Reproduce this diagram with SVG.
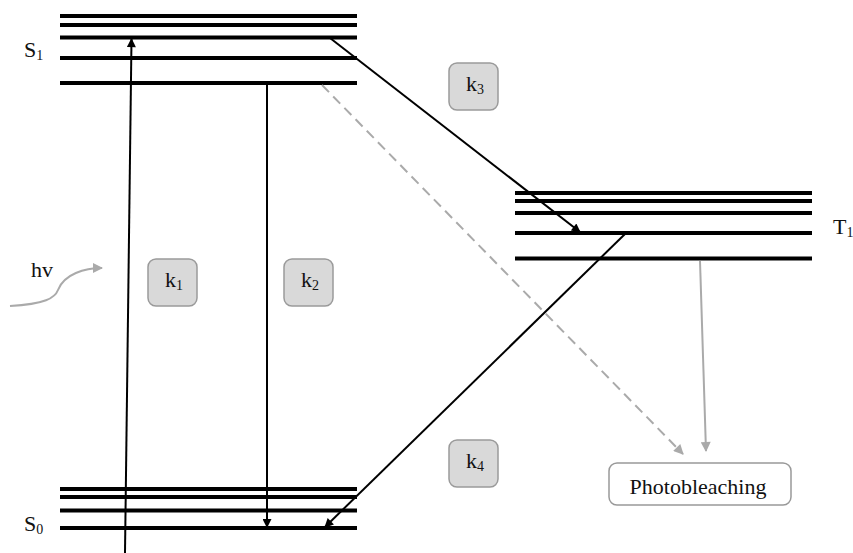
<svg xmlns="http://www.w3.org/2000/svg" width="853" height="553" viewBox="0 0 853 553">
<style>
.lvl{stroke:#000;stroke-width:4;}
text{font-family:'Liberation Serif','DejaVu Serif',serif;fill:#111;font-size:22px;}
.sub{font-size:14px;}
.kbox{fill:#d9d9d9;stroke:#9a9a9a;stroke-width:1.5;}
.arr{stroke:#000;stroke-width:2;fill:none;}
.garr{stroke:#aaa;stroke-width:2;fill:none;}
</style>
<defs>
<marker id="ab" viewBox="0 0 10 10" refX="9" refY="5" markerWidth="11" markerHeight="9" orient="auto" markerUnits="userSpaceOnUse"><path d="M0,0 L10,5 L0,10 z" fill="#000"/></marker>
<marker id="ag" viewBox="0 0 10 10" refX="9" refY="5" markerWidth="12" markerHeight="10" orient="auto" markerUnits="userSpaceOnUse"><path d="M0,0 L10,5 L0,10 z" fill="#aaa"/></marker>
</defs>
<rect width="853" height="553" fill="#fff"/>
<g id="S1">
<line class="lvl" x1="60" y1="16" x2="357" y2="16"/>
<line class="lvl" x1="60" y1="25" x2="357" y2="25"/>
<line class="lvl" x1="60" y1="37.5" x2="357" y2="37.5"/>
<line class="lvl" x1="60" y1="58" x2="357" y2="58"/>
<line class="lvl" x1="60" y1="83" x2="357" y2="83"/>
<text x="24" y="57">S<tspan class="sub" dy="3">1</tspan></text>
</g>
<g id="S0">
<line class="lvl" x1="60" y1="489" x2="357" y2="489"/>
<line class="lvl" x1="60" y1="497" x2="357" y2="497"/>
<line class="lvl" x1="60" y1="510.5" x2="357" y2="510.5"/>
<line class="lvl" x1="60" y1="528" x2="357" y2="528"/>
<text x="24" y="531">S<tspan class="sub" dy="3">0</tspan></text>
</g>
<g id="T1">
<line class="lvl" x1="515" y1="193" x2="812" y2="193"/>
<line class="lvl" x1="515" y1="201" x2="812" y2="201"/>
<line class="lvl" x1="515" y1="213" x2="812" y2="213"/>
<line class="lvl" x1="515" y1="233" x2="812" y2="233"/>
<line class="lvl" x1="515" y1="258.5" x2="812" y2="258.5"/>
<text x="833" y="234">T<tspan class="sub" dy="3">1</tspan></text>
</g>
<g id="connectors">
<line class="arr" x1="125" y1="553" x2="131.5" y2="39" marker-end="url(#ab)"/>
<line class="arr" x1="267" y1="85" x2="267" y2="527" marker-end="url(#ab)"/>
<line class="arr" x1="330" y1="38" x2="580" y2="232" marker-end="url(#ab)"/>
<line class="arr" x1="625" y1="234" x2="325" y2="527" marker-end="url(#ab)"/>
<line class="garr" x1="322" y1="85" x2="683" y2="454" stroke-dasharray="10,6" marker-end="url(#ag)"/>
<line class="garr" x1="700" y1="261" x2="706" y2="451" marker-end="url(#ag)"/>
<path class="garr" d="M10,306 C45,304 55,298 58,290 C64,274 85,268 102,268" marker-end="url(#ag)"/>
</g>
<g id="hv"><text x="31" y="277">hv</text></g>
<g id="k1"><rect class="kbox" x="148" y="259" width="49" height="47" rx="8"/><text x="165" y="287">k<tspan class="sub" dy="3">1</tspan></text></g>
<g id="k2"><rect class="kbox" x="284" y="259" width="49" height="47" rx="8"/><text x="301" y="287">k<tspan class="sub" dy="3">2</tspan></text></g>
<g id="k3"><rect class="kbox" x="449" y="63" width="49" height="47" rx="8"/><text x="466" y="91">k<tspan class="sub" dy="3">3</tspan></text></g>
<g id="k4"><rect class="kbox" x="449" y="440" width="49" height="47" rx="8"/><text x="466" y="468">k<tspan class="sub" dy="3">4</tspan></text></g>
<g id="photobleaching"><rect x="609" y="463" width="182" height="42" rx="8" fill="#fff" stroke="#999" stroke-width="1.5"/><text x="698" y="494" text-anchor="middle">Photobleaching</text></g>
</svg>
